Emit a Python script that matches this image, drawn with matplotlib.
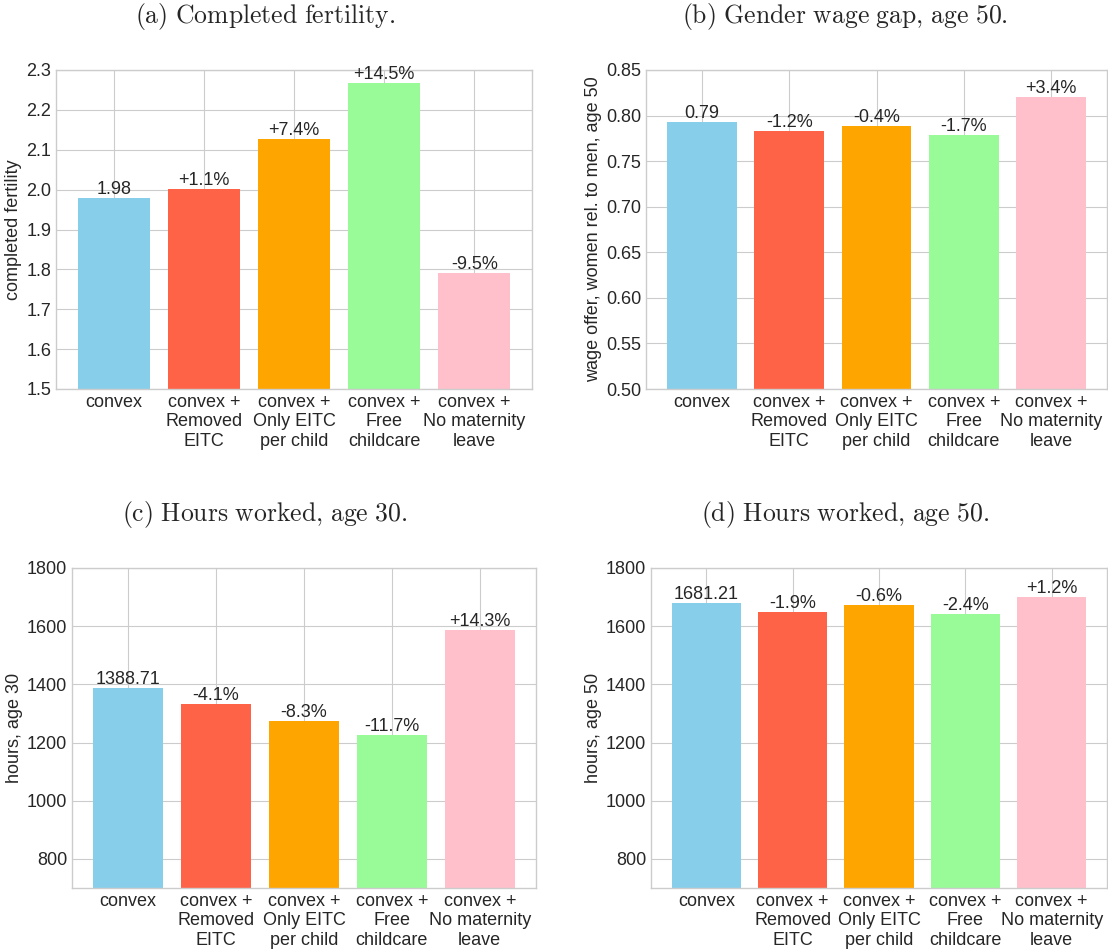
import matplotlib
matplotlib.use('Agg')
import matplotlib.pyplot as plt

plt.style.use('seaborn-v0_8-whitegrid')
plt.rcParams['font.family'] = ['Liberation Sans', 'DejaVu Sans']
plt.rcParams['mathtext.fontset'] = 'cm'

# scenarios
scenarios = ['convex', 'convex +\nRemoved\nEITC', 'convex +\nOnly EITC\nper child',
             'convex +\nFree\nchildcare', 'convex +\nNo maternity\nleave']
bar_colors = ['skyblue', 'tomato', 'orange', 'palegreen', 'pink']

# values
fertility = [1.98, 2.002, 2.126, 2.267, 1.792]
fertility_labels = ['1.98', '+1.1%', '+7.4%', '+14.5%', '-9.5%']

wage_gap = [0.793, 0.783, 0.789, 0.779, 0.820]
wage_gap_labels = ['0.79', '-1.2%', '-0.4%', '-1.7%', '+3.4%']

hours30 = [1388.71, 1331.8, 1273.4, 1226.2, 1587.3]
hours30_labels = ['1388.71', '-4.1%', '-8.3%', '-11.7%', '+14.3%']

hours50 = [1681.21, 1649.3, 1671.1, 1640.9, 1701.4]
hours50_labels = ['1681.21', '-1.9%', '-0.6%', '-2.4%', '+1.2%']

W, H = 1108, 951
fig = plt.figure(figsize=(W / 100, H / 100), dpi=100)


def panel(box, vals, labels, ylabel, ylim, title, title_xy):
    l, t, r, b = box
    ax = fig.add_axes([l / W, 1 - b / H, (r - l) / W, (b - t) / H])
    x = range(len(vals))
    ax.bar(x, vals, color=bar_colors, width=0.8)
    for xi, v, lab in zip(x, vals, labels):
        ax.text(xi, v, lab, ha='center', va='bottom', fontsize=13, color='.15')
    ax.set_xticks(list(x))
    ax.set_xticklabels(scenarios, fontsize=13)
    ax.tick_params(axis='y', labelsize=13)
    ax.set_ylim(*ylim)
    ax.set_ylabel(ylabel, fontsize=13, labelpad=3)
    for s in ax.spines.values():
        s.set_color('.8')
    fig.text(title_xy[0] / W, 1 - title_xy[1] / H, title, ha='center', va='center', fontsize=18.5)
    return ax


panel((56, 70, 532, 389), fertility, fertility_labels, 'completed fertility', (1.5, 2.3),
      r'$\mathrm{(a)\ Completed\ fertility.}$', (265, 17))
ax_b = panel((646, 70, 1107, 389), wage_gap, wage_gap_labels, 'wage offer, women rel. to men, age 50',
             (0.5, 0.85), r'$\mathrm{(b)\ Gender\ wage\ gap{,}\ age\ 50.}$', (845, 17))
ax_b.set_yticks([0.5, 0.55, 0.6, 0.65, 0.7, 0.75, 0.8, 0.85])
ax_b.set_yticklabels(['%.2f' % v for v in ax_b.get_yticks()])
panel((72, 568, 536, 888), hours30, hours30_labels, 'hours, age 30', (700, 1800),
      r'$\mathrm{(c)\ Hours\ worked{,}\ age\ 30.}$', (265, 515))
panel((651, 568, 1107, 888), hours50, hours50_labels, 'hours, age 50', (700, 1800),
      r'$\mathrm{(d)\ Hours\ worked{,}\ age\ 50.}$', (845, 515))

fig.savefig('out.png', dpi=100)
